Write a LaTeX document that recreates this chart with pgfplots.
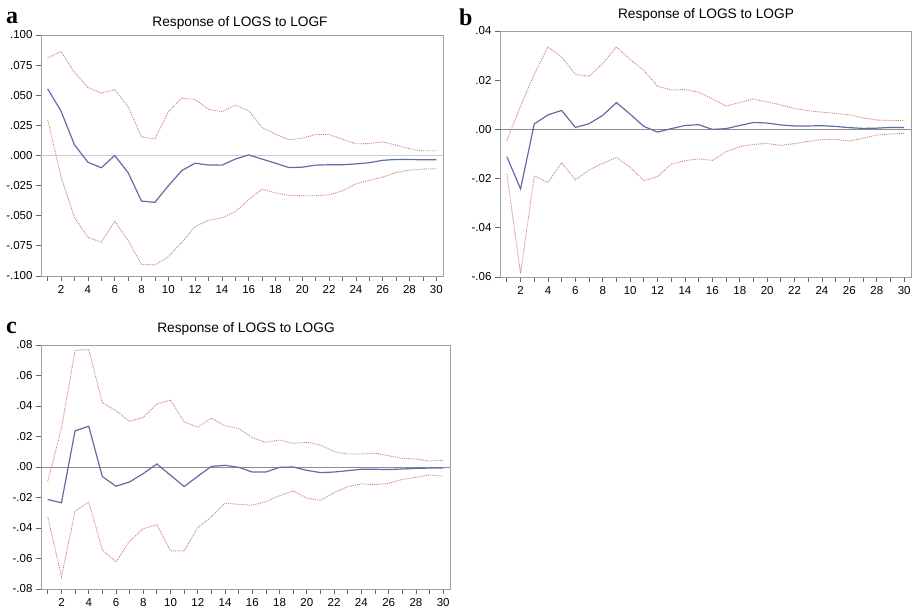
\documentclass[border=0pt]{standalone}
\usepackage{fontspec}
\setmainfont{Liberation Sans}
\newfontfamily\panelfont{Liberation Serif}
\usepackage{pgfplots}
\usepackage{pgfplotstable}
\pgfplotsset{compat=1.18}

\definecolor{irf}{RGB}{104,104,168}
\definecolor{band}{RGB}{205,125,125}
\definecolor{frame}{RGB}{160,160,160}

% h = horizon, mid = response, up/lo = +/- 2 S.E.
\pgfplotstableread{
h mid up lo
1 0.0553 0.0810 0.0296
2 0.0367 0.0863 -0.0180
3 0.0089 0.0690 -0.0514
4 -0.0056 0.0565 -0.0679
5 -0.0102 0.0517 -0.0719
6 0.0000 0.0546 -0.0544
7 -0.0142 0.0405 -0.0706
8 -0.0378 0.0155 -0.0903
9 -0.0389 0.0137 -0.0908
10 -0.0252 0.0362 -0.0840
11 -0.0126 0.0477 -0.0722
12 -0.0064 0.0465 -0.0590
13 -0.0079 0.0382 -0.0538
14 -0.0080 0.0364 -0.0518
15 -0.0030 0.0417 -0.0467
16 0.0005 0.0373 -0.0367
17 -0.0030 0.0232 -0.0279
18 -0.0064 0.0177 -0.0310
19 -0.0100 0.0130 -0.0331
20 -0.0097 0.0144 -0.0334
21 -0.0080 0.0174 -0.0334
22 -0.0077 0.0174 -0.0326
23 -0.0077 0.0135 -0.0293
24 -0.0070 0.0097 -0.0235
25 -0.0060 0.0099 -0.0207
26 -0.0040 0.0113 -0.0180
27 -0.0033 0.0086 -0.0141
28 -0.0033 0.0055 -0.0122
29 -0.0036 0.0039 -0.0113
30 -0.0036 0.0039 -0.0110
}\logf

\pgfplotstableread{
h mid up lo
1 -0.0111 -0.0046 -0.0181
2 -0.0242 0.0095 -0.0586
3 0.0022 0.0224 -0.0189
4 0.0059 0.0335 -0.0216
5 0.0077 0.0295 -0.0135
6 0.0008 0.0224 -0.0205
7 0.0023 0.0216 -0.0165
8 0.0057 0.0268 -0.0138
9 0.0109 0.0335 -0.0114
10 0.0062 0.0284 -0.0154
11 0.0012 0.0240 -0.0208
12 -0.0011 0.0176 -0.0192
13 0.0003 0.0160 -0.0141
14 0.0016 0.0162 -0.0127
15 0.0019 0.0151 -0.0120
16 0.0000 0.0124 -0.0126
17 0.0003 0.0095 -0.0091
18 0.0016 0.0109 -0.0070
19 0.0028 0.0123 -0.0061
20 0.0026 0.0112 -0.0057
21 0.0018 0.0099 -0.0065
22 0.0014 0.0085 -0.0058
23 0.0014 0.0076 -0.0049
24 0.0015 0.0070 -0.0041
25 0.0012 0.0065 -0.0041
26 0.0007 0.0059 -0.0047
27 0.0004 0.0047 -0.0036
28 0.0005 0.0038 -0.0023
29 0.0008 0.0036 -0.0019
30 0.0008 0.0036 -0.0016
}\logp

\pgfplotstableread{
h mid up lo
1 -0.0213 -0.0093 -0.0328
2 -0.0235 0.0254 -0.0720
3 0.0237 0.0765 -0.0289
4 0.0267 0.0770 -0.0230
5 -0.0063 0.0422 -0.0543
6 -0.0126 0.0370 -0.0622
7 -0.0098 0.0298 -0.0487
8 -0.0043 0.0326 -0.0404
9 0.0020 0.0413 -0.0378
10 -0.0054 0.0439 -0.0550
11 -0.0128 0.0296 -0.0550
12 -0.0061 0.0261 -0.0398
13 0.0004 0.0320 -0.0326
14 0.0011 0.0270 -0.0238
15 -0.0002 0.0253 -0.0245
16 -0.0033 0.0192 -0.0251
17 -0.0033 0.0162 -0.0227
18 -0.0002 0.0177 -0.0188
19 0.0000 0.0155 -0.0157
20 -0.0022 0.0162 -0.0205
21 -0.0037 0.0144 -0.0218
22 -0.0033 0.0100 -0.0168
23 -0.0024 0.0085 -0.0129
24 -0.0015 0.0085 -0.0111
25 -0.0015 0.0090 -0.0116
26 -0.0017 0.0074 -0.0107
27 -0.0013 0.0057 -0.0081
28 -0.0009 0.0052 -0.0068
29 -0.0007 0.0039 -0.0052
30 -0.0007 0.0044 -0.0061
}\logg

\pgfplotsset{
  irfaxis/.style={
    scale only axis, anchor=south west,
    xmin=0.5, xmax=30.5,
    xtick={2,4,...,30}, minor xtick={1,3,...,29},
    scaled y ticks=false,
    tick align=outside, tick pos=left,
    major tick length=5pt, minor tick length=5pt,
    axis line style={frame, line width=0.9pt},
    tick style={black!60, line width=0.8pt},
    minor tick style={black!60, line width=0.8pt},
    tick label style={font=\fontsize{11.5}{13}\selectfont},
    /pgf/number format/assume math mode=true,
    xticklabel style={yshift=-1pt},
  },
  mid/.style={irf, line width=1.2pt},
  se/.style={band, densely dotted, line width=0.9pt},
}

\begin{document}
\begin{tikzpicture}
\path[use as bounding box] (0,0) rectangle (914pt,612pt);

% ---------- (a) ----------
\begin{axis}[irfaxis, at={(41pt,336pt)}, width=402pt, height=241pt,
  ymin=-0.1, ymax=0.1,
  ytick={-0.1,-0.075,...,0.1},
  yticklabels={-.100,-.075,-.050,-.025,.000,.025,.050,.075,.100},
]
\addplot[black!20, line width=1.6pt] coordinates {(0.5,0) (30.5,0)};
\addplot[se] table[x=h, y=up] {\logf};
\addplot[se] table[x=h, y=lo] {\logf};
\addplot[mid] table[x=h, y=mid] {\logf};
\end{axis}

% ---------- (b) ----------
\begin{axis}[irfaxis, at={(500pt,335pt)}, width=411pt, height=246pt,
  ymin=-0.06, ymax=0.04,
  ytick={-0.06,-0.04,...,0.04},
  yticklabels={-.06,-.04,-.02,.00,.02,.04},
]
\addplot[black!45, line width=0.8pt] coordinates {(0.5,0) (30.5,0)};
\addplot[se] table[x=h, y=up] {\logp};
\addplot[se] table[x=h, y=lo] {\logp};
\addplot[mid] table[x=h, y=mid] {\logp};
\end{axis}

% ---------- (c) ----------
\begin{axis}[irfaxis, at={(41pt,23pt)}, width=409pt, height=244pt,
  ymin=-0.08, ymax=0.08,
  ytick={-0.08,-0.06,...,0.08},
  yticklabels={-.08,-.06,-.04,-.02,.00,.02,.04,.06,.08},
]
\addplot[black!45, line width=0.8pt] coordinates {(0.5,0) (30.5,0)};
\addplot[se] table[x=h, y=up] {\logg};
\addplot[se] table[x=h, y=lo] {\logg};
\addplot[mid] table[x=h, y=mid] {\logg};
\end{axis}

% titles and panel letters
\begin{scope}[every node/.style={anchor=base, inner sep=0pt}]
\node[font=\fontsize{13.7}{16}\selectfont] at (240pt,585pt) {Response of LOGS to LOGF};
\node[font=\fontsize{13.7}{16}\selectfont] at (706pt,593pt) {Response of LOGS to LOGP};
\node[font=\fontsize{13.7}{16}\selectfont] at (246pt,279pt) {Response of LOGS to LOGG};
\node[font=\panelfont\bfseries\fontsize{24}{26}\selectfont, anchor=base west] at (6pt,588pt) {a};
\node[font=\panelfont\bfseries\fontsize{24}{26}\selectfont, anchor=base west] at (459pt,586pt) {b};
\node[font=\panelfont\bfseries\fontsize{24}{26}\selectfont, anchor=base west] at (6pt,278pt) {c};
\end{scope}
\end{tikzpicture}
\end{document}
